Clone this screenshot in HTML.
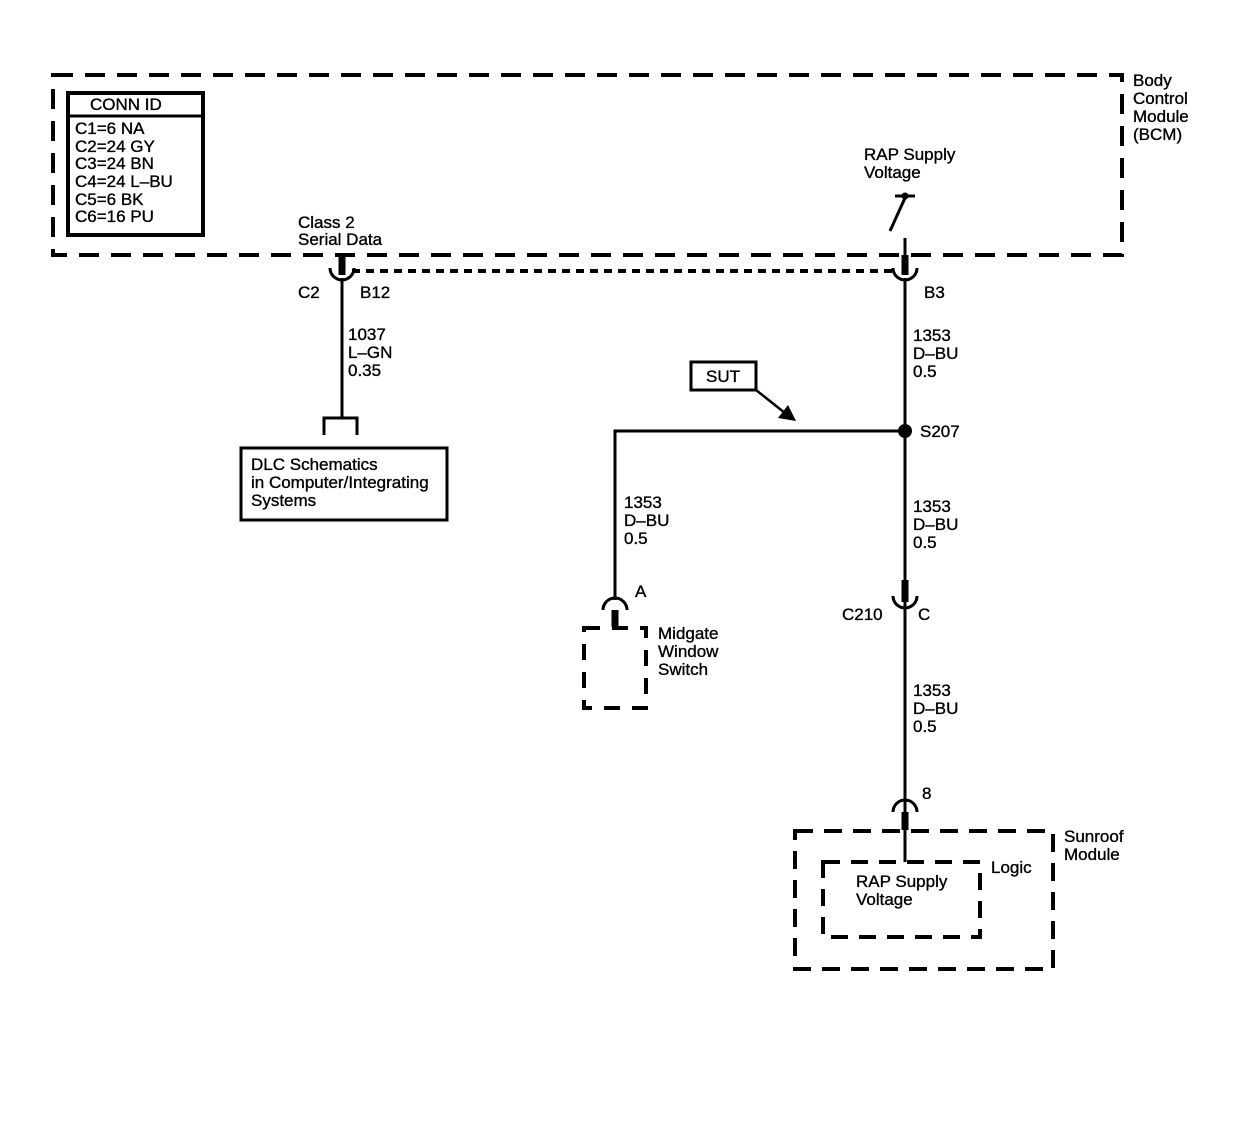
<!DOCTYPE html>
<html><head><meta charset="utf-8"><style>
html,body{margin:0;padding:0;background:#fff;}
svg{display:block;}
text{font-family:"Liberation Sans",Arial,sans-serif;font-size:17px;fill:#000;stroke:#000;stroke-width:0.35px;}
</style></head><body>
<svg width="1240" height="1136" viewBox="0 0 1240 1136" xmlns="http://www.w3.org/2000/svg">
<g fill="none" stroke="#000">
<rect x="53" y="75" width="1069" height="180" stroke-width="4" stroke-dasharray="20,12"/>
<rect x="68" y="93" width="135" height="142" stroke-width="4"/>
<line x1="68" y1="116" x2="203" y2="116" stroke-width="3"/>
<line x1="352" y1="271" x2="893" y2="271" stroke-width="4" stroke-dasharray="8,6"/>
<line x1="342" y1="255" x2="342" y2="275" stroke-width="7"/>
<path d="M330,268 A12,12 0 0 0 354,268" stroke-width="3"/>
<line x1="342" y1="278" x2="342" y2="418" stroke-width="3"/>
<path d="M324,435 V418 H357 V435" stroke-width="3"/>
<rect x="241" y="448" width="206" height="72" stroke-width="3"/>
<line x1="895" y1="196" x2="915" y2="196" stroke-width="3"/>
<line x1="905" y1="198" x2="890" y2="231" stroke-width="3"/>
<line x1="905" y1="238" x2="905" y2="255" stroke-width="3"/>
<line x1="905" y1="255" x2="905" y2="275" stroke-width="7"/>
<path d="M893,268 A12,12 0 0 0 917,268" stroke-width="3"/>
<line x1="905" y1="278" x2="905" y2="592" stroke-width="3"/>
<polyline points="905,431 615,431 615,600" stroke-width="3"/>
<rect x="691" y="362" width="65" height="28" stroke-width="3"/>
<line x1="756" y1="390" x2="785" y2="413" stroke-width="2.5"/>
<line x1="905" y1="580" x2="905" y2="602" stroke-width="7"/>
<path d="M893,596 A12,12 0 0 0 917,596" stroke-width="3"/>
<line x1="905" y1="602" x2="905" y2="812" stroke-width="3"/>
<path d="M893,812 A12,12 0 0 1 917,812" stroke-width="3"/>
<line x1="905" y1="812" x2="905" y2="830" stroke-width="7"/>
<line x1="905" y1="830" x2="905" y2="862" stroke-width="3"/>
<path d="M603,610 A12,12 0 0 1 627,610" stroke-width="3"/>
<line x1="615" y1="610" x2="615" y2="627" stroke-width="7"/>
<path d="M584,628 H646 V708 H584 Z" stroke-width="4" stroke-dasharray="16,12"/>
<rect x="795" y="831" width="258" height="138" stroke-width="4" stroke-dasharray="18,11"/>
<rect x="823" y="862" width="157" height="75" stroke-width="4" stroke-dasharray="17,11"/>
</g>
<circle cx="905" cy="431" r="7" fill="#000"/>
<circle cx="905" cy="196" r="3.5" fill="#000"/>
<polygon points="796,421 778,418 788,405" fill="#000"/>
<g>
<text x="90" y="110">CONN ID</text>
<text x="75" y="134">C1=6 NA</text>
<text x="75" y="152">C2=24 GY</text>
<text x="75" y="169">C3=24 BN</text>
<text x="75" y="187">C4=24 L–BU</text>
<text x="75" y="205">C5=6 BK</text>
<text x="75" y="222">C6=16 PU</text>
<text x="298" y="228">Class 2</text>
<text x="298" y="245">Serial Data</text>
<text x="1133" y="86">Body</text>
<text x="1133" y="104">Control</text>
<text x="1133" y="122">Module</text>
<text x="1133" y="140">(BCM)</text>
<text x="864" y="160">RAP Supply</text>
<text x="864" y="178">Voltage</text>
<text x="298" y="298">C2</text>
<text x="360" y="298">B12</text>
<text x="924" y="298">B3</text>
<text x="348" y="340">1037</text>
<text x="348" y="358">L–GN</text>
<text x="348" y="376">0.35</text>
<text x="913" y="341">1353</text>
<text x="913" y="359">D–BU</text>
<text x="913" y="377">0.5</text>
<text x="706" y="382">SUT</text>
<text x="920" y="437">S207</text>
<text x="251" y="470">DLC Schematics</text>
<text x="251" y="488">in Computer/Integrating</text>
<text x="251" y="506">Systems</text>
<text x="624" y="508">1353</text>
<text x="624" y="526">D–BU</text>
<text x="624" y="544">0.5</text>
<text x="913" y="512">1353</text>
<text x="913" y="530">D–BU</text>
<text x="913" y="548">0.5</text>
<text x="635" y="597">A</text>
<text x="842" y="620">C210</text>
<text x="918" y="620">C</text>
<text x="658" y="639">Midgate</text>
<text x="658" y="657">Window</text>
<text x="658" y="675">Switch</text>
<text x="913" y="696">1353</text>
<text x="913" y="714">D–BU</text>
<text x="913" y="732">0.5</text>
<text x="922" y="799">8</text>
<text x="1064" y="842">Sunroof</text>
<text x="1064" y="860">Module</text>
<text x="991" y="873">Logic</text>
<text x="856" y="887">RAP Supply</text>
<text x="856" y="905">Voltage</text>
</g>
</svg>
</body></html>
